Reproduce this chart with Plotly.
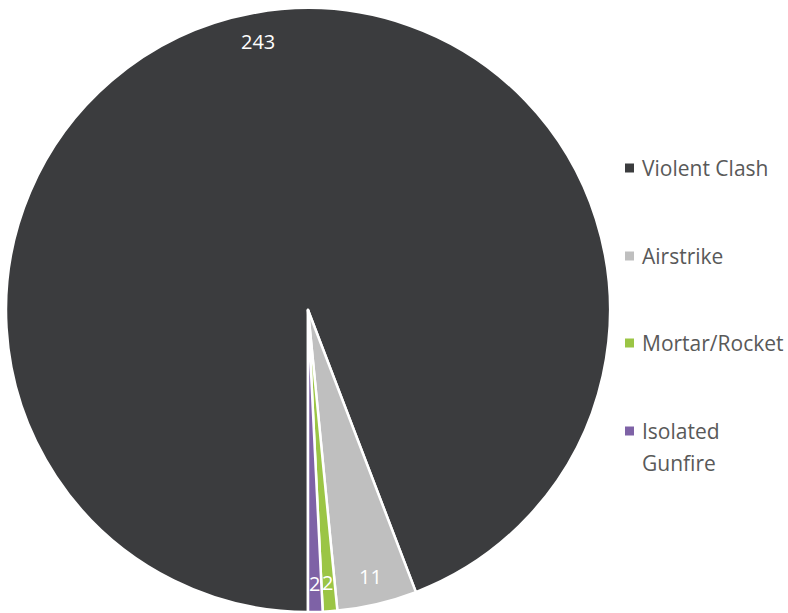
import math
import plotly.graph_objects as go

labels = ["Violent Clash", "Airstrike", "Mortar/Rocket", "Isolated Gunfire"]
legend_lines = [["Violent Clash"], ["Airstrike"], ["Mortar/Rocket"], ["Isolated", "Gunfire"]]
values = [243, 11, 2, 2]
colors = ["#3B3C3E", "#BFBFBF", "#9BC545", "#7E62A6"]

W, H = 788, 613
cx, cy, R = 308, 310, 302
rotation = 180
FONT = "Open Sans"

fig = go.Figure(go.Pie(
    labels=labels, values=values, sort=False, direction="clockwise",
    rotation=rotation, textinfo="none", hoverinfo="label+value",
    marker=dict(colors=colors, line=dict(color="white", width=2.5)),
    domain=dict(x=[(cx - R) / W, (cx + R) / W], y=[1 - (cy + R) / H, 1 - (cy - R) / H]),
    showlegend=False,
))

annotations = []
total = sum(values)
start = rotation
for v in values:
    span = 360 * v / total
    mid = math.radians(start + span / 2)
    r = 0.905 * R
    px = cx + r * math.sin(mid)
    py = cy - r * math.cos(mid)
    annotations.append(dict(x=px / W, y=1 - py / H, xref="paper", yref="paper",
                            text=str(v), showarrow=False,
                            font=dict(color="white", size=20, family=FONT),
                            xanchor="center", yanchor="middle"))
    start += span

shapes = []
leg_y = [168, 256, 343, 431]
line_gap = 32
for lines, col, ly in zip(legend_lines, colors, leg_y):
    shapes.append(dict(type="rect", xref="paper", yref="paper",
                       x0=625 / W, x1=634 / W, y0=1 - (ly + 4.5) / H, y1=1 - (ly - 4.5) / H,
                       fillcolor=col, line=dict(width=0)))
    for i, txt in enumerate(lines):
        annotations.append(dict(x=640 / W, y=1 - (ly + i * line_gap) / H, xref="paper", yref="paper",
                                text=txt, showarrow=False, align="left",
                                xanchor="left", yanchor="middle",
                                font=dict(color="#595959", size=21, family=FONT)))

fig.update_layout(
    width=W, height=H, margin=dict(l=0, r=0, t=0, b=0),
    paper_bgcolor="white", plot_bgcolor="white",
    annotations=annotations, shapes=shapes,
)
fig.write_html("out.html")
